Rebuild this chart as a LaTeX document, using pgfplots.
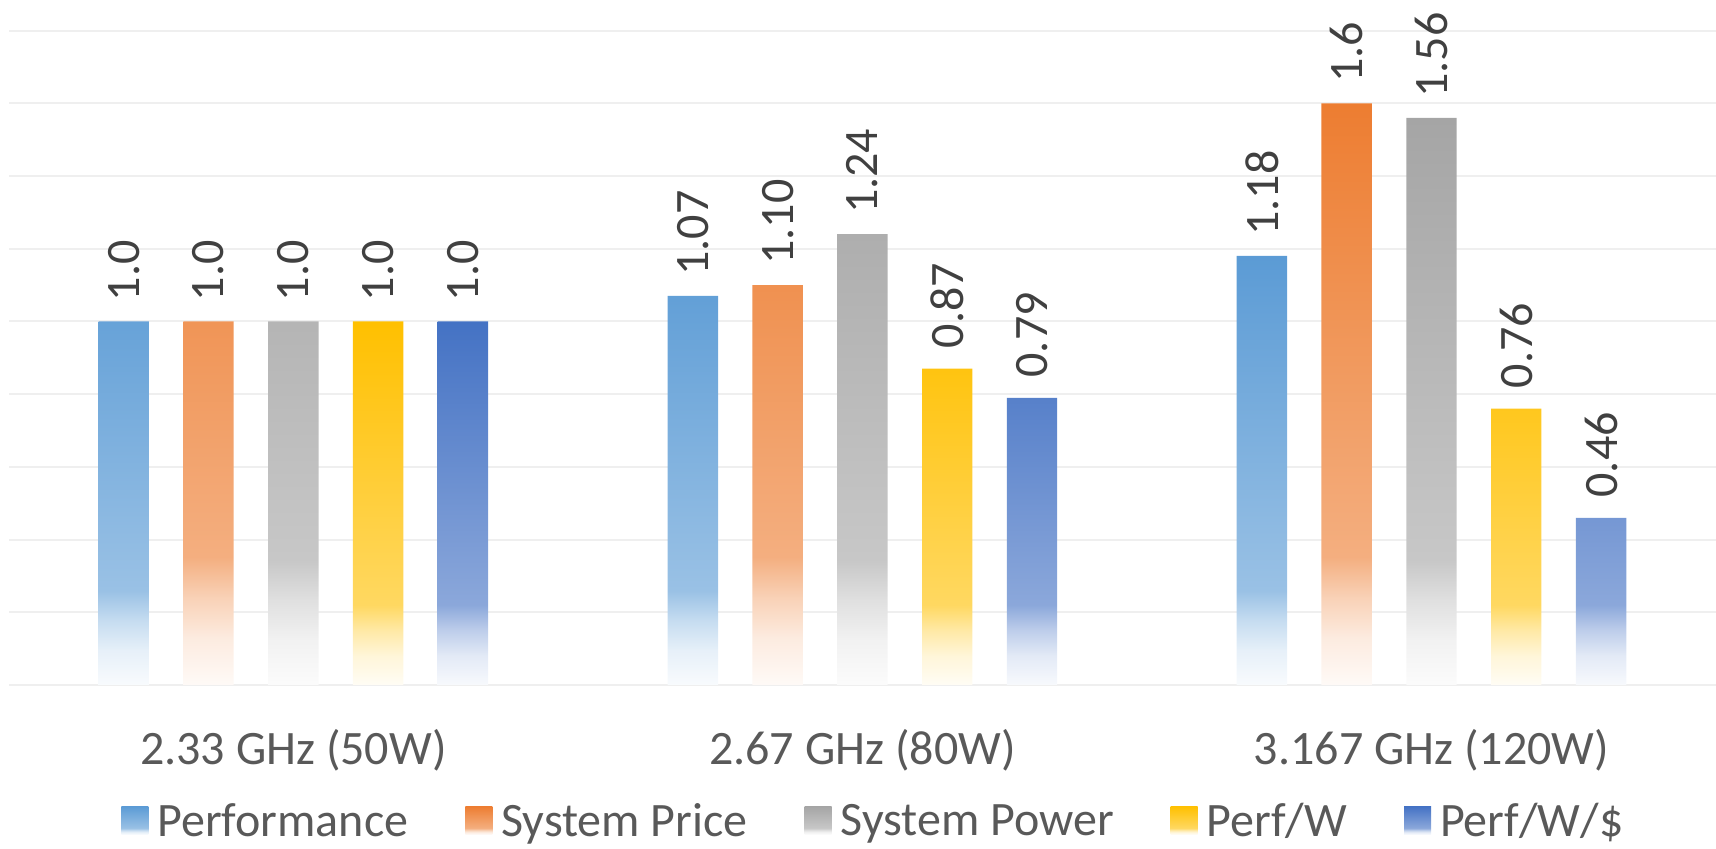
\documentclass[border=0pt]{standalone}
\usepackage{pgfplots}
\pgfplotsset{compat=1.18}
\usepackage{pgfplotstable}
\usepackage{graphicx}
\usepackage{fontspec}
\setmainfont{Carlito}

% Office palette
\definecolor{cPerf}{HTML}{5B9BD5}
\definecolor{cPrice}{HTML}{ED7D31}
\definecolor{cPower}{HTML}{A5A5A5}
\definecolor{cPW}{HTML}{FFC000}
\definecolor{cPWD}{HTML}{4472C4}
\definecolor{gridc}{HTML}{EFEFEF}
\definecolor{axisc}{HTML}{D9D9D9}
\definecolor{labc}{HTML}{404040}
\definecolor{txtc}{HTML}{595959}

% vertical fade: full colour at the top, almost white at the bottom
\newcommand\barshade[2]{%
  \pgfdeclareverticalshading{#1}{100bp}{%
    color(0bp)=(#2!4!white); color(25bp)=(#2!4!white);
    color(29bp)=(#2!15!white); color(32.5bp)=(#2!35!white);
    color(36bp)=(#2!62!white); color(75bp)=(#2); color(100bp)=(#2)}}
\barshade{shPerf}{cPerf}
\barshade{shPrice}{cPrice}
\barshade{shPower}{cPower}
\barshade{shPW}{cPW}
\barshade{shPWD}{cPWD}

% bar centres within a group: -2..2 steps of 0.149 axis units
\pgfplotstableread{
x y label
0 1.00 1.0
1 1.07 1.07
2 1.18 1.18
}\tPerf
\pgfplotstableread{
x y label
0 1.00 1.0
1 1.10 1.10
2 1.60 1.6
}\tPrice
\pgfplotstableread{
x y label
0 1.00 1.0
1 1.24 1.24
2 1.56 1.56
}\tPower
\pgfplotstableread{
x y label
0 1.00 1.0
1 0.87 0.87
2 0.76 0.76
}\tPW
\pgfplotstableread{
x y label
0 1.00 1.0
1 0.79 0.79
2 0.46 0.46
}\tPWD

\pgfplotsset{
  fadebar/.style={
    ybar, bar width=25.2pt, bar shift=0pt,
    draw=none, shade, shading=#1,
    nodes near coords={\rotatebox{90}{\pgfplotspointmeta}},
    point meta=explicit symbolic,
    every node near coord/.append style={anchor=south,
      font=\fontsize{24pt}{28pt}\selectfont, text=labc,
      inner ysep=10pt, inner xsep=0pt},
    legend image code/.code={%
      \path[shade, shading=#1] (0pt,-6.3pt) rectangle (13.5pt,7.7pt);
      \path (0pt,0pt) -- (16pt,0pt);}
  }
}

\begin{document}
\begin{tikzpicture}
\begin{axis}[
  scale only axis, width=853.6pt, height=327.2pt,
  at={(0pt,0pt)}, anchor=south west,
  xmin=-0.5, xmax=2.5, ymin=0, ymax=1.8,
  xtick={0,1,2},
  xticklabels={2.33 GHz (50W), 2.67 GHz (80W), 3.167 GHz (120W)},
  xticklabel style={anchor=base, yshift=-40pt,
    font=\fontsize{24pt}{28pt}\selectfont, text=txtc},
  ytick={0.2,0.4,0.6,0.8,1.0,1.2,1.4,1.6,1.8},
  yticklabels={},
  extra y ticks={0}, extra y tick labels={},
  extra y tick style={grid style={axisc, line width=1.2pt}},
  ymajorgrids,
  major grid style={gridc, line width=1pt},
  axis line style={draw=none},
  major tick length=0pt,
  legend columns=5,
  legend cell align=left,
  legend style={at={(0.507,-0.209)}, anchor=center, draw=none, fill=none,
    font=\fontsize{24pt}{28pt}\selectfont, text=txtc, inner sep=0pt,
    /tikz/every even column/.append style={column sep=26.5pt}},
  clip=false,
]
\addplot[fadebar=shPerf] table[x expr=\thisrow{x}-0.298, y=y, meta=label] {\tPerf};
\addlegendentry{Performance}
\addplot[fadebar=shPrice] table[x expr=\thisrow{x}-0.149, y=y, meta=label] {\tPrice};
\addlegendentry{System Price}
\addplot[fadebar=shPower] table[x=x, y=y, meta=label] {\tPower};
\addlegendentry{System Power}
\addplot[fadebar=shPW] table[x expr=\thisrow{x}+0.149, y=y, meta=label] {\tPW};
\addlegendentry{Perf/W}
\addplot[fadebar=shPWD] table[x expr=\thisrow{x}+0.298, y=y, meta=label] {\tPWD};
\addlegendentry{Perf/W/\$}
\end{axis}
\pgfresetboundingbox
\path[use as bounding box] (-4.4pt,-82pt) rectangle (853.6pt,342.5pt);
\end{tikzpicture}
\end{document}
